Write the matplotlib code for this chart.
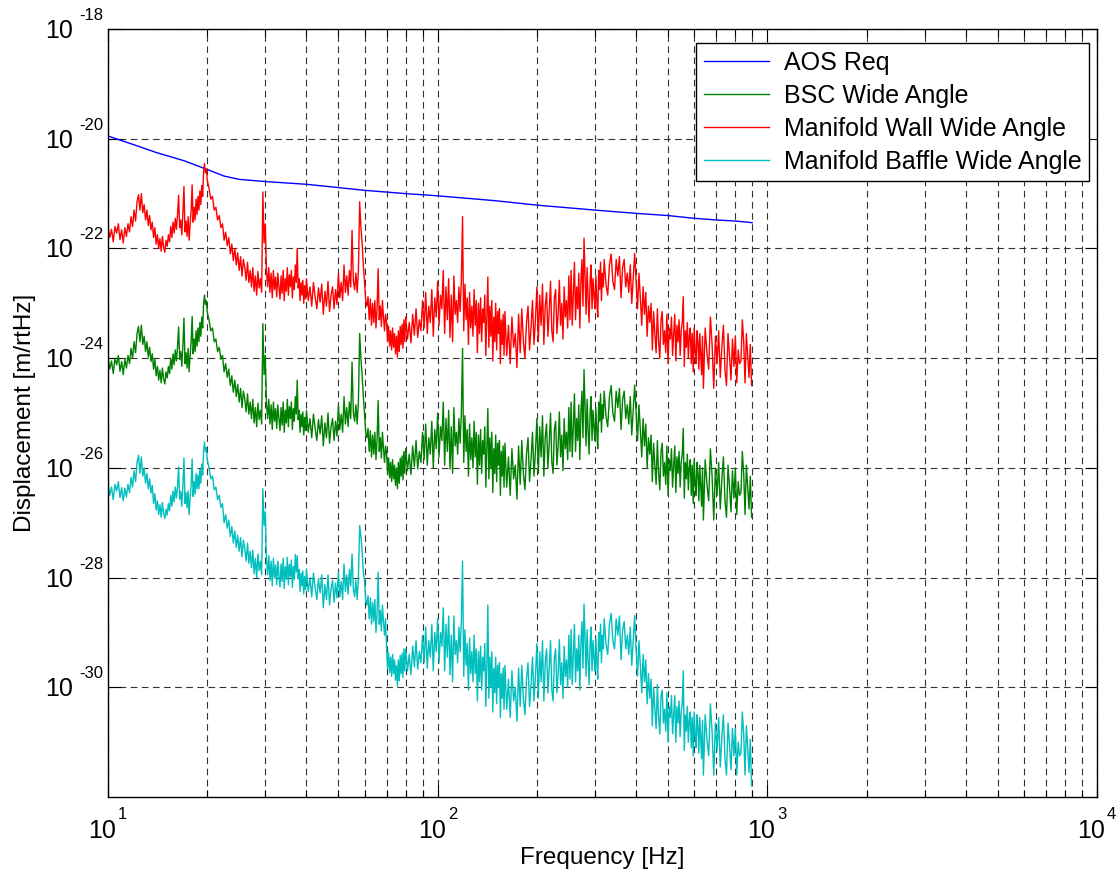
import numpy as np
import matplotlib
matplotlib.use("Agg")
import matplotlib.pyplot as plt
from matplotlib.ticker import LogLocator, NullLocator, NullFormatter

# AOS requirement curve (log10 of displacement)
aos_freq = [10, 12, 14, 17, 20, 22.5, 25, 30, 40, 50, 60, 80, 100, 150, 200,
            300, 400, 500, 600, 700, 800, 900]
aos_log10 = [-19.95, -20.11, -20.25, -20.40, -20.56, -20.68, -20.74, -20.78,
             -20.83, -20.89, -20.94, -21.00, -21.04, -21.13, -21.21, -21.30,
             -21.36, -21.40, -21.45, -21.48, -21.50, -21.53]

# frequency bins shared by the three scattered-light spectra
freq_hz = [
    10, 10.125, 10.25, 10.375, 10.5, 10.625, 10.75, 10.875, 11, 11.125,
    11.25, 11.375, 11.5, 11.625, 11.75, 11.875, 12, 12.125, 12.25, 12.375,
    12.5, 12.625, 12.75, 12.875, 13, 13.125, 13.25, 13.375, 13.5, 13.625,
    13.75, 13.875, 14, 14.125, 14.25, 14.375, 14.5, 14.625, 14.75, 14.875,
    15, 15.125, 15.25, 15.375, 15.5, 15.625, 15.75, 15.875, 16, 16.125,
    16.25, 16.375, 16.5, 16.625, 16.75, 16.875, 17, 17.125, 17.25, 17.375,
    17.5, 17.625, 17.75, 17.875, 18, 18.125, 18.25, 18.375, 18.5, 18.625,
    18.75, 18.875, 19, 19.125, 19.25, 19.375, 19.5, 19.625, 19.75, 19.875,
    20, 20.25, 20.5, 20.75, 21, 21.25, 21.5, 21.75, 22, 22.25,
    22.5, 22.75, 23, 23.25, 23.5, 23.75, 24, 24.25, 24.5, 24.75,
    25, 25.25, 25.5, 25.75, 26, 26.25, 26.5, 26.75, 27, 27.25,
    27.5, 27.75, 28, 28.25, 28.5, 28.75, 29, 29.25, 29.5, 29.75,
    30, 30.25, 30.5, 30.75, 31, 31.25, 31.5, 31.75, 32, 32.25,
    32.5, 32.75, 33, 33.25, 33.5, 33.75, 34, 34.25, 34.5, 34.75,
    35, 35.25, 35.5, 35.75, 36, 36.25, 36.5, 36.75, 37, 37.25,
    37.5, 37.75, 38, 38.25, 38.5, 38.75, 39, 39.25, 39.5, 39.75,
    40, 40.5, 41, 41.5, 42, 42.5, 43, 43.5, 44, 44.5,
    45, 45.5, 46, 46.5, 47, 47.5, 48, 48.5, 49, 49.5,
    50, 50.5, 51, 51.5, 52, 52.5, 53, 53.5, 54, 54.5,
    55, 55.5, 56, 56.5, 57, 57.5, 58, 58.5, 59, 59.5,
    60, 60.5, 61, 61.5, 62, 62.5, 63, 63.5, 64, 64.5,
    65, 65.5, 66, 66.5, 67, 67.5, 68, 68.5, 69, 69.5,
    70, 70.5, 71, 71.5, 72, 72.5, 73, 73.5, 74, 74.5,
    75, 75.5, 76, 76.5, 77, 77.5, 78, 78.5, 79, 79.5,
    80, 81, 82, 83, 84, 85, 86, 87, 88, 89,
    90, 91, 92, 93, 94, 95, 96, 97, 98, 99,
    100, 101, 102, 103, 104, 105, 106, 107, 108, 109,
    110, 111, 112, 113, 114, 115, 116, 117, 118, 119,
    120, 121, 122, 123, 124, 125, 126, 127, 128, 129,
    130, 131, 132, 133, 134, 135, 136, 137, 138, 139,
    140, 141, 142, 143, 144, 145, 146, 147, 148, 149,
    150, 151, 152, 153, 154, 155, 156, 157, 158, 159,
    160, 162, 164, 166, 168, 170, 172, 174, 176, 178,
    180, 182, 184, 186, 188, 190, 192, 194, 196, 198,
    200, 202, 204, 206, 208, 210, 212, 214, 216, 218,
    220, 222, 224, 226, 228, 230, 232, 234, 236, 238,
    240, 242, 244, 246, 248, 250, 252, 254, 256, 258,
    260, 262, 264, 266, 268, 270, 272, 274, 276, 278,
    280, 282, 284, 286, 288, 290, 292, 294, 296, 298,
    300, 302, 304, 306, 308, 310, 312, 314, 316, 318,
    320, 324, 328, 332, 336, 340, 344, 348, 352, 356,
    360, 364, 368, 372, 376, 380, 384, 388, 392, 396,
    400, 404, 408, 412, 416, 420, 424, 428, 432, 436,
    440, 444, 448, 452, 456, 460, 464, 468, 472, 476,
    480, 484, 488, 492, 496, 500, 504, 508, 512, 516,
    520, 524, 528, 532, 536, 540, 544, 548, 552, 556,
    560, 564, 568, 572, 576, 580, 584, 588, 592, 596,
    600, 604, 608, 612, 616, 620, 624, 628, 632, 636,
    640, 648, 656, 664, 672, 680, 688, 696, 704, 712,
    720, 728, 736, 744, 752, 760, 768, 776, 784, 792,
    800, 808, 816, 824, 832, 840, 848, 856, 864, 872,
    880, 888, 896,
]

bsc_log10 = [
    -23.98, -24.20, -24.05, -24.28, -24.00, -24.12, -23.95, -24.24, -24.06, -24.30,
    -24.02, -24.18, -23.95, -24.10, -23.82, -24.00, -23.70, -23.90, -23.55, -23.42,
    -23.70, -23.40, -23.75, -23.60, -23.88, -23.70, -23.98, -23.80, -24.06, -23.92,
    -24.20, -24.02, -24.32, -24.15, -24.40, -24.22, -24.45, -24.18, -24.38, -24.47,
    -24.25, -24.36, -24.15, -24.28, -24.00, -24.20, -23.92, -24.12, -23.85, -24.05,
    -23.80, -23.43, -24.02, -23.88, -24.15, -23.75, -23.27, -24.10, -23.90, -24.18,
    -23.82, -24.25, -23.95, -23.70, -23.24, -23.92, -23.65, -23.88, -23.50, -23.78,
    -23.45, -23.70, -23.35, -23.60, -23.25, -23.45, -23.00, -22.85, -23.02, -22.95,
    -23.15, -23.30, -23.50, -23.45, -23.70, -23.65, -23.88, -23.80, -24.02, -23.95,
    -24.25, -24.10, -24.35, -24.20, -24.50, -24.32, -24.62, -24.40, -24.70, -24.48,
    -24.80, -24.55, -24.90, -24.60, -24.75, -24.98, -24.65, -25.02, -24.80, -25.10,
    -24.75, -25.18, -24.90, -25.25, -24.82, -25.12, -24.95, -25.20, -23.37, -24.30,
    -23.95, -24.80, -25.10, -24.75, -25.20, -24.85, -25.30, -24.80, -25.15, -24.92,
    -25.28, -24.85, -25.10, -25.32, -24.90, -25.22, -24.80, -25.35, -24.95, -25.18,
    -24.75, -25.25, -24.88, -25.10, -24.80, -25.30, -24.92, -25.15, -24.70, -25.02,
    -24.40, -25.12, -24.95, -25.35, -25.02, -25.25, -24.98, -25.40, -25.08, -25.32,
    -24.95, -25.35, -25.10, -25.45, -25.02, -25.28, -25.50, -25.12, -25.38, -25.05,
    -25.60, -25.18, -25.45, -25.00, -25.55, -25.25, -25.10, -25.50, -25.15, -25.42,
    -24.85, -25.30, -25.02, -25.35, -24.70, -25.20, -24.90, -25.25, -24.80, -25.10,
    -24.07, -25.00, -25.15, -24.85, -25.20, -24.80, -23.55, -24.00, -24.30, -24.70,
    -25.00, -25.35, -25.45, -25.28, -25.70, -25.32, -25.80, -25.40, -25.75, -25.35,
    -25.85, -25.50, -24.77, -25.70, -25.45, -25.82, -25.35, -25.65, -25.90, -25.60,
    -25.75, -26.10, -25.82, -26.18, -25.90, -26.25, -25.85, -26.20, -25.95, -26.32,
    -26.00, -26.38, -25.90, -26.28, -25.82, -26.15, -25.78, -26.22, -25.70, -26.10,
    -25.65, -26.05, -25.75, -26.12, -25.60, -25.98, -25.50, -26.02, -25.70, -25.90,
    -25.35, -25.85, -25.20, -25.95, -25.45, -25.75, -25.15, -26.00, -25.30, -25.65,
    -25.00, -25.80, -25.25, -25.50, -24.80, -25.95, -25.10, -25.70, -24.95, -26.02,
    -25.25, -26.10, -24.90, -25.60, -25.35, -25.75, -25.10, -25.55, -25.00, -23.82,
    -25.90, -25.05, -25.70, -25.30, -26.15, -25.20, -25.85, -25.45, -26.00, -25.15,
    -25.80, -25.35, -26.30, -25.40, -25.95, -25.30, -26.10, -25.50, -25.75, -25.25,
    -26.35, -25.60, -24.92, -26.20, -25.45, -26.00, -25.35, -26.45, -25.65, -26.10,
    -25.40, -26.25, -25.55, -25.95, -25.50, -26.50, -25.70, -26.15, -25.60, -26.35,
    -25.55, -26.35, -25.80, -26.50, -25.65, -26.20, -25.95, -26.57, -25.60, -26.30,
    -25.50, -26.10, -26.40, -25.75, -25.45, -26.25, -25.85, -25.35, -26.15, -25.70,
    -25.10, -26.10, -25.25, -25.80, -25.05, -26.15, -25.45, -25.20, -26.00, -25.55,
    -25.00, -25.90, -26.10, -25.30, -25.15, -25.95, -25.60, -24.98, -25.80, -25.40,
    -26.05, -25.10, -25.65, -25.35, -25.85, -24.90, -25.70, -24.80, -25.80, -25.25,
    -24.65, -25.70, -25.10, -25.50, -24.85, -25.85, -25.00, -24.60, -25.45, -24.21,
    -24.90, -25.60, -24.75, -25.30, -25.75, -25.00, -24.70, -25.50, -24.95, -25.25,
    -25.50, -24.90, -25.35, -25.65, -24.80, -25.15, -24.65, -25.35, -24.85, -25.10,
    -24.60, -25.05, -25.25, -24.70, -24.50, -25.00, -25.15, -24.60, -24.90, -24.55,
    -25.30, -24.75, -24.60, -25.10, -24.85, -25.20, -24.70, -25.40, -24.95, -24.49,
    -25.00, -25.50, -24.85, -25.30, -25.80, -25.10, -25.60, -25.20, -26.00, -25.45,
    -25.75, -25.40, -26.25, -25.55, -25.95, -26.30, -25.50, -26.10, -26.40, -25.70,
    -25.55, -26.15, -25.90, -26.30, -25.60, -26.50, -25.85, -26.05, -25.65, -26.35,
    -25.95, -25.60, -26.45, -25.80, -26.10, -25.70, -26.35, -25.90, -25.75, -25.28,
    -26.55, -25.90, -26.20, -25.75, -26.40, -26.00, -25.85, -26.50, -25.95, -26.65,
    -25.85, -26.25, -26.50, -25.90, -26.10, -26.60, -25.95, -26.35, -26.70, -26.00,
    -26.95, -25.85, -26.30, -26.60, -25.65, -26.15, -26.95, -26.00, -26.50, -25.90,
    -26.75, -26.20, -25.80, -26.60, -26.90, -25.95, -26.35, -26.80, -26.05, -26.55,
    -26.00, -26.85, -26.25, -26.50, -26.45, -25.70, -26.10, -26.85, -25.95, -26.35,
    -26.75, -26.15, -26.90,
]

wall_log10 = [
    -21.58, -21.80, -21.65, -21.88, -21.60, -21.72, -21.55, -21.84, -21.66, -21.90,
    -21.62, -21.78, -21.55, -21.70, -21.42, -21.60, -21.30, -21.50, -21.15, -21.02,
    -21.30, -21.00, -21.35, -21.20, -21.48, -21.30, -21.58, -21.40, -21.66, -21.52,
    -21.80, -21.62, -21.92, -21.75, -22.00, -21.82, -22.05, -21.78, -21.98, -22.07,
    -21.85, -21.96, -21.75, -21.88, -21.60, -21.80, -21.52, -21.72, -21.45, -21.65,
    -21.40, -21.03, -21.62, -21.48, -21.75, -21.35, -20.87, -21.70, -21.50, -21.78,
    -21.42, -21.85, -21.55, -21.30, -20.84, -21.52, -21.25, -21.48, -21.10, -21.38,
    -21.05, -21.30, -20.95, -21.20, -20.85, -21.05, -20.60, -20.45, -20.62, -20.55,
    -20.75, -20.90, -21.10, -21.05, -21.30, -21.25, -21.48, -21.40, -21.62, -21.55,
    -21.85, -21.70, -21.95, -21.80, -22.10, -21.92, -22.22, -22.00, -22.30, -22.08,
    -22.40, -22.15, -22.50, -22.20, -22.35, -22.58, -22.25, -22.62, -22.40, -22.70,
    -22.35, -22.78, -22.50, -22.85, -22.42, -22.72, -22.55, -22.80, -20.97, -21.90,
    -21.55, -22.40, -22.70, -22.35, -22.80, -22.45, -22.90, -22.40, -22.75, -22.52,
    -22.88, -22.45, -22.70, -22.92, -22.50, -22.82, -22.40, -22.95, -22.55, -22.78,
    -22.35, -22.85, -22.48, -22.70, -22.40, -22.90, -22.52, -22.75, -22.30, -22.62,
    -22.00, -22.72, -22.55, -22.95, -22.62, -22.85, -22.58, -23.00, -22.68, -22.92,
    -22.55, -22.95, -22.70, -23.05, -22.62, -22.88, -23.10, -22.72, -22.98, -22.65,
    -23.20, -22.78, -23.05, -22.60, -23.15, -22.85, -22.70, -23.10, -22.75, -23.02,
    -22.45, -22.90, -22.62, -22.95, -22.30, -22.80, -22.50, -22.85, -22.40, -22.70,
    -21.67, -22.60, -22.75, -22.45, -22.80, -22.40, -21.15, -21.60, -21.90, -22.30,
    -22.60, -22.95, -23.05, -22.88, -23.30, -22.92, -23.40, -23.00, -23.35, -22.95,
    -23.45, -23.10, -22.37, -23.30, -23.05, -23.42, -22.95, -23.25, -23.50, -23.20,
    -23.35, -23.70, -23.42, -23.78, -23.50, -23.85, -23.45, -23.80, -23.55, -23.92,
    -23.60, -23.98, -23.50, -23.88, -23.42, -23.75, -23.38, -23.82, -23.30, -23.70,
    -23.25, -23.65, -23.35, -23.72, -23.20, -23.58, -23.10, -23.62, -23.30, -23.50,
    -22.95, -23.45, -22.80, -23.55, -23.05, -23.35, -22.75, -23.60, -22.90, -23.25,
    -22.60, -23.40, -22.85, -23.10, -22.40, -23.55, -22.70, -23.30, -22.55, -23.62,
    -22.85, -23.70, -22.50, -23.20, -22.95, -23.35, -22.70, -23.15, -22.60, -21.42,
    -23.50, -22.65, -23.30, -22.90, -23.75, -22.80, -23.45, -23.05, -23.60, -22.75,
    -23.40, -22.95, -23.90, -23.00, -23.55, -22.90, -23.70, -23.10, -23.35, -22.85,
    -23.95, -23.20, -22.52, -23.80, -23.05, -23.60, -22.95, -24.05, -23.25, -23.70,
    -23.00, -23.85, -23.15, -23.55, -23.10, -24.10, -23.30, -23.75, -23.20, -23.95,
    -23.15, -23.95, -23.40, -24.10, -23.25, -23.80, -23.55, -24.17, -23.20, -23.90,
    -23.10, -23.70, -24.00, -23.35, -23.05, -23.85, -23.45, -22.95, -23.75, -23.30,
    -22.70, -23.70, -22.85, -23.40, -22.65, -23.75, -23.05, -22.80, -23.60, -23.15,
    -22.60, -23.50, -23.70, -22.90, -22.75, -23.55, -23.20, -22.58, -23.40, -23.00,
    -23.65, -22.70, -23.25, -22.95, -23.45, -22.50, -23.30, -22.40, -23.40, -22.85,
    -22.25, -23.30, -22.70, -23.10, -22.45, -23.45, -22.60, -22.20, -23.05, -21.81,
    -22.50, -23.20, -22.35, -22.90, -23.35, -22.60, -22.30, -23.10, -22.55, -22.85,
    -23.10, -22.50, -22.95, -23.25, -22.40, -22.75, -22.25, -22.95, -22.45, -22.70,
    -22.20, -22.65, -22.85, -22.30, -22.10, -22.60, -22.75, -22.20, -22.50, -22.15,
    -22.90, -22.35, -22.20, -22.70, -22.45, -22.80, -22.30, -23.00, -22.55, -22.09,
    -22.60, -23.10, -22.45, -22.90, -23.40, -22.70, -23.20, -22.80, -23.60, -23.05,
    -23.35, -23.00, -23.85, -23.15, -23.55, -23.90, -23.10, -23.70, -24.00, -23.30,
    -23.15, -23.75, -23.50, -23.90, -23.20, -24.10, -23.45, -23.65, -23.25, -23.95,
    -23.55, -23.20, -24.05, -23.40, -23.70, -23.30, -23.95, -23.50, -23.35, -22.88,
    -24.15, -23.50, -23.80, -23.35, -24.00, -23.60, -23.45, -24.10, -23.55, -24.25,
    -23.45, -23.85, -24.10, -23.50, -23.70, -24.20, -23.55, -23.95, -24.30, -23.60,
    -24.55, -23.45, -23.90, -24.20, -23.25, -23.75, -24.55, -23.60, -24.10, -23.50,
    -24.35, -23.80, -23.40, -24.20, -24.50, -23.55, -23.95, -24.40, -23.65, -24.15,
    -23.60, -24.45, -23.85, -24.10, -24.05, -23.30, -23.70, -24.45, -23.55, -23.95,
    -24.35, -23.75, -24.50,
]

baffle_log10 = [
    -26.28, -26.50, -26.35, -26.58, -26.30, -26.42, -26.25, -26.54, -26.36, -26.60,
    -26.37, -26.53, -26.30, -26.45, -26.17, -26.35, -26.05, -26.25, -25.90, -25.77,
    -26.10, -25.80, -26.15, -26.00, -26.28, -26.10, -26.38, -26.20, -26.46, -26.32,
    -26.65, -26.47, -26.77, -26.60, -26.85, -26.67, -26.90, -26.63, -26.83, -26.92,
    -26.75, -26.86, -26.65, -26.78, -26.50, -26.70, -26.42, -26.62, -26.35, -26.55,
    -26.35, -25.98, -26.57, -26.43, -26.70, -26.30, -25.82, -26.65, -26.45, -26.73,
    -26.42, -26.85, -26.55, -26.30, -25.84, -26.52, -26.25, -26.48, -26.10, -26.38,
    -26.13, -26.38, -26.03, -26.28, -25.93, -26.13, -25.68, -25.53, -25.70, -25.63,
    -25.85, -26.00, -26.20, -26.15, -26.40, -26.35, -26.58, -26.50, -26.72, -26.65,
    -27.00, -26.85, -27.10, -26.95, -27.25, -27.07, -27.37, -27.15, -27.45, -27.23,
    -27.52, -27.27, -27.62, -27.32, -27.47, -27.70, -27.37, -27.74, -27.52, -27.82,
    -27.50, -27.93, -27.65, -28.00, -27.57, -27.87, -27.70, -27.95, -26.38, -27.05,
    -26.80, -27.65, -27.95, -27.60, -28.05, -27.70, -28.15, -27.65, -28.00, -27.77,
    -28.13, -27.70, -27.95, -28.17, -27.75, -28.07, -27.65, -28.20, -27.80, -28.03,
    -27.63, -28.13, -27.76, -27.98, -27.68, -28.18, -27.80, -28.03, -27.58, -27.90,
    -27.60, -28.02, -27.85, -28.25, -27.92, -28.15, -27.88, -28.30, -27.98, -28.22,
    -27.85, -28.25, -28.00, -28.35, -27.92, -28.18, -28.40, -28.02, -28.28, -27.95,
    -28.55, -28.13, -28.40, -27.95, -28.50, -28.20, -28.05, -28.45, -28.10, -28.37,
    -27.90, -28.35, -28.07, -28.40, -27.75, -28.25, -27.95, -28.30, -27.85, -28.15,
    -27.57, -28.20, -28.35, -28.05, -28.40, -28.00, -27.05, -27.25, -27.50, -27.90,
    -28.05, -28.40, -28.50, -28.33, -28.75, -28.37, -28.85, -28.45, -28.80, -28.40,
    -29.00, -28.65, -27.90, -28.85, -28.60, -28.97, -28.50, -28.80, -29.05, -28.75,
    -29.30, -29.65, -29.37, -29.73, -29.45, -29.80, -29.40, -29.75, -29.50, -29.87,
    -29.60, -29.98, -29.50, -29.88, -29.42, -29.75, -29.38, -29.82, -29.30, -29.70,
    -29.30, -29.70, -29.40, -29.77, -29.25, -29.63, -29.15, -29.67, -29.35, -29.55,
    -29.05, -29.55, -28.90, -29.65, -29.15, -29.45, -28.85, -29.70, -29.00, -29.35,
    -28.75, -29.55, -29.00, -29.25, -28.55, -29.70, -28.85, -29.45, -28.70, -29.77,
    -29.05, -29.90, -28.70, -29.40, -29.15, -29.55, -28.90, -29.35, -28.80, -27.70,
    -29.80, -28.95, -29.60, -29.20, -30.05, -29.10, -29.75, -29.35, -29.90, -29.05,
    -29.75, -29.30, -30.25, -29.35, -29.90, -29.25, -30.05, -29.45, -29.70, -29.20,
    -30.35, -29.60, -28.50, -30.20, -29.45, -30.00, -29.35, -30.45, -29.65, -30.10,
    -29.45, -30.30, -29.60, -30.00, -29.55, -30.55, -29.75, -30.20, -29.65, -30.40,
    -29.60, -30.40, -29.85, -30.55, -29.70, -30.25, -30.00, -30.62, -29.65, -30.35,
    -29.60, -30.20, -30.50, -29.85, -29.55, -30.35, -29.95, -29.45, -30.25, -29.80,
    -29.20, -30.20, -29.35, -29.90, -29.15, -30.25, -29.55, -29.30, -30.10, -29.65,
    -29.15, -30.05, -30.25, -29.45, -29.30, -30.10, -29.75, -29.13, -29.95, -29.55,
    -30.20, -29.25, -29.80, -29.50, -30.00, -29.05, -29.85, -28.95, -29.95, -29.40,
    -28.85, -29.90, -29.30, -29.70, -29.05, -30.05, -29.20, -28.80, -29.65, -28.48,
    -29.10, -29.80, -28.95, -29.50, -29.95, -29.20, -28.90, -29.70, -29.15, -29.45,
    -29.70, -29.10, -29.55, -29.85, -29.00, -29.35, -28.85, -29.55, -29.05, -29.30,
    -28.75, -29.20, -29.40, -28.85, -28.65, -29.15, -29.30, -28.75, -29.05, -28.70,
    -29.50, -28.95, -28.80, -29.30, -29.05, -29.40, -28.90, -29.60, -29.15, -28.69,
    -29.30, -29.80, -29.15, -29.60, -30.10, -29.40, -29.90, -29.50, -30.30, -29.75,
    -30.20, -29.85, -30.70, -30.00, -30.40, -30.75, -29.95, -30.55, -30.85, -30.15,
    -30.05, -30.65, -30.40, -30.80, -30.10, -31.00, -30.35, -30.55, -30.15, -30.85,
    -30.50, -30.15, -31.00, -30.35, -30.65, -30.25, -30.90, -30.45, -30.30, -29.70,
    -31.15, -30.50, -30.80, -30.35, -31.00, -30.60, -30.45, -31.10, -30.55, -31.25,
    -30.45, -30.85, -31.10, -30.50, -30.70, -31.20, -30.55, -30.95, -31.30, -30.60,
    -31.60, -30.50, -30.95, -31.25, -30.30, -30.80, -31.60, -30.65, -31.15, -30.55,
    -31.45, -30.90, -30.50, -31.30, -31.60, -30.65, -31.05, -31.50, -30.75, -31.25,
    -30.75, -31.60, -31.00, -31.25, -31.20, -30.45, -30.85, -31.60, -30.70, -31.10,
    -31.55, -30.95, -31.80,
]

x_decades = [1, 2, 3, 4]
y_decades = [-30, -28, -26, -24, -22, -20, -18]

plt.rcParams['font.family'] = ['Liberation Sans', 'DejaVu Sans']

fig = plt.figure(figsize=(11.19, 8.75), dpi=100)
ax = fig.add_axes([0.0965, 0.0891, 0.8838, 0.8777])

f = np.array(freq_hz)
ax.loglog(aos_freq, 10.0 ** np.array(aos_log10), color='#0000ff', lw=1.0, label='AOS Req')
ax.loglog(f, 10.0 ** np.array(bsc_log10), color='#008000', lw=1.0, label='BSC Wide Angle')
ax.loglog(f, 10.0 ** np.array(wall_log10), color='#ff0000', lw=1.0, label='Manifold Wall Wide Angle')
ax.loglog(f, 10.0 ** np.array(baffle_log10), color='#00bfbf', lw=1.0, label='Manifold Baffle Wide Angle')

ax.set_xlim(10, 1e4)
ax.set_ylim(1e-32, 1e-18)
ax.set_xticks([10.0 ** k for k in x_decades])
ax.set_yticks([10.0 ** k for k in y_decades])
ax.yaxis.set_minor_locator(NullLocator())
ax.xaxis.set_minor_locator(LogLocator(base=10, subs=range(2, 10)))
ax.xaxis.set_minor_formatter(NullFormatter())

ax.tick_params(which='both', direction='in', top=True, right=True, width=0.8,
               labelbottom=False, labelleft=False)
ax.tick_params(which='major', length=9)
ax.tick_params(which='minor', length=5)
for s in ax.spines.values():
    s.set_linewidth(1.0)

# MATLAB-style power-of-ten tick labels: big "10", small raised exponent
for k in y_decades:
    ax.annotate('10', xy=(0, 10.0 ** k), xycoords=('axes fraction', 'data'),
                xytext=(-35, -9), textcoords='offset pixels', ha='right',
                va='baseline', fontsize=18, annotation_clip=False)
    ax.annotate(str(k), xy=(0, 10.0 ** k), xycoords=('axes fraction', 'data'),
                xytext=(-29, 9), textcoords='offset pixels', ha='left',
                va='baseline', fontsize=12, annotation_clip=False)
for k in x_decades:
    ax.annotate('10', xy=(10.0 ** k, 0), xycoords=('data', 'axes fraction'),
                xytext=(8, -41), textcoords='offset pixels', ha='right',
                va='baseline', fontsize=18, annotation_clip=False)
    ax.annotate(str(k), xy=(10.0 ** k, 0), xycoords=('data', 'axes fraction'),
                xytext=(10, -22), textcoords='offset pixels', ha='left',
                va='baseline', fontsize=12, annotation_clip=False)

grid_style = dict(linestyle=(0, (6, 4)), color='0.2', linewidth=0.8)
ax.grid(True, which='major', **grid_style)
ax.grid(True, which='minor', axis='x', **grid_style)
ax.set_axisbelow(True)

ax.set_xlabel('Frequency [Hz]', fontsize=17.5)
ax.set_ylabel('Displacement [m/rtHz]', fontsize=17.5)
ax.xaxis.set_label_coords(0.5, -0.065)
ax.yaxis.set_label_coords(-0.073, 0.5)

leg = ax.legend(loc='upper right', bbox_to_anchor=(0.9919, 0.9818), borderaxespad=0,
                fontsize=18, fancybox=False, framealpha=1, edgecolor='black',
                handlelength=2.6, handletextpad=0.6, labelspacing=0.36, borderpad=0.3)
leg.get_frame().set_linewidth(1.0)

fig.savefig('out.png', dpi=100)
